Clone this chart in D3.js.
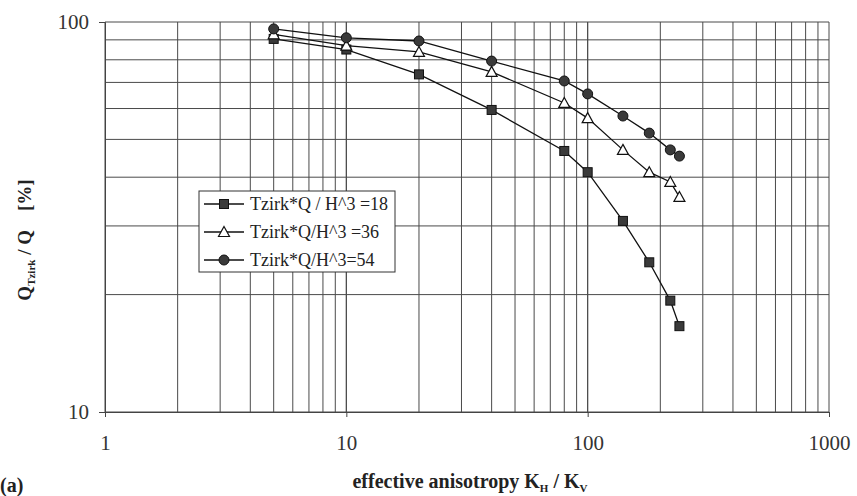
<!DOCTYPE html>
<html>
<head>
<meta charset="utf-8">
<script src="https://cdn.jsdelivr.net/npm/d3@7"></script>
<style>
  body { margin: 0; background: #fff; }
  text { font-family: "Liberation Serif", "DejaVu Serif", serif; white-space: pre; }
</style>
</head>
<body>
<svg id="chart"></svg>
<script>
const WIDTH = 857;
const HEIGHT = 496;

// data
const xValues = [5, 10, 20, 40, 80, 100, 140, 180, 220, 240];
const series18 = [90.5, 85, 73.4, 59.5, 46.7, 41.2, 30.9, 24.2, 19.3, 16.6];
const series36 = [93, 87, 83.8, 74.5, 62, 56.7, 47, 41.2, 38.9, 35.6];
const series54 = [96, 91.1, 89.4, 79.4, 70.6, 65.4, 57.4, 51.9, 47, 45.3];
const seriesNames = ["Tzirk*Q / H^3 =18", "Tzirk*Q/H^3 =36", "Tzirk*Q/H^3=54"];
const seriesMarkers = ["square", "triangle", "circle"];
const xTickLabels = [1, 10, 100, 1000];
const yTickLabels = [10, 100];

const margin = { top: 22, right: 28, bottom: 84, left: 105 };

const svg = d3.select("#chart").attr("width", WIDTH).attr("height", HEIGHT);

const xScale = d3.scaleLog().domain([1, 1000]).range([margin.left, WIDTH - margin.right]);
const yScale = d3.scaleLog().domain([10, 100]).range([HEIGHT - margin.bottom, margin.top]);

// grid
const xGrid = [];
for (let d = 1; d < 1000; d *= 10) for (let k = 1; k <= 10; k++) xGrid.push(d * k);
const yGrid = [];
for (let k = 1; k <= 10; k++) yGrid.push(10 * k);

svg.append("g")
  .selectAll("line")
  .data(xGrid)
  .join("line")
  .attr("x1", (d) => xScale(d))
  .attr("x2", (d) => xScale(d))
  .attr("y1", yScale(100))
  .attr("y2", yScale(10))
  .attr("stroke", "#4a4a4a")
  .attr("stroke-width", 1);

svg.append("g")
  .selectAll("line")
  .data(yGrid)
  .join("line")
  .attr("x1", xScale(1))
  .attr("x2", xScale(1000))
  .attr("y1", (d) => yScale(d))
  .attr("y2", (d) => yScale(d))
  .attr("stroke", "#4a4a4a")
  .attr("stroke-width", 1);

// axes
const xAxis = svg.append("g")
  .attr("transform", `translate(0, ${HEIGHT - margin.bottom})`)
  .call(d3.axisBottom(xScale).tickValues(xTickLabels).tickFormat(d3.format("d")).tickSize(5).tickPadding(18));
const yAxis = svg.append("g")
  .attr("transform", `translate(${margin.left}, 0)`)
  .call(d3.axisLeft(yScale).tickValues(yTickLabels).tickFormat(d3.format("d")).tickSize(6).tickPadding(10));

[xAxis, yAxis].forEach((g) => {
  g.select(".domain").attr("stroke", "#444");
  g.selectAll(".tick line").attr("stroke", "#444");
  g.selectAll(".tick text")
    .attr("font-family", "Liberation Serif, serif")
    .attr("font-size", 21)
    .attr("fill", "#333");
});

// lines and markers
const allSeries = [series18, series36, series54];
const line = d3.line()
  .x((d, i) => xScale(xValues[i]))
  .y((d) => yScale(d));

const drawMarker = (g, type, x, y) => {
  if (type === "square") {
    g.append("rect")
      .attr("x", x - 4.5).attr("y", y - 4.5)
      .attr("width", 9).attr("height", 9)
      .attr("fill", "#3a3a3a").attr("stroke", "#111").attr("stroke-width", 1);
  } else if (type === "triangle") {
    g.append("path")
      .attr("d", `M${x},${y - 5.5}L${x + 5.5},${y + 4.5}L${x - 5.5},${y + 4.5}Z`)
      .attr("fill", "#fff").attr("stroke", "#111").attr("stroke-width", 1.2);
  } else {
    g.append("circle")
      .attr("cx", x).attr("cy", y).attr("r", 5)
      .attr("fill", "#3a3a3a").attr("stroke", "#111").attr("stroke-width", 1);
  }
};

allSeries.forEach((values, s) => {
  svg.append("path")
    .datum(values)
    .attr("d", line)
    .attr("fill", "none")
    .attr("stroke", "#111")
    .attr("stroke-width", 1.3);
  const g = svg.append("g");
  values.forEach((v, i) => drawMarker(g, seriesMarkers[s], xScale(xValues[i]), yScale(v)));
});

// legend
const legend = svg.append("g").attr("transform", "translate(199, 191)");
legend.append("rect")
  .attr("width", 196).attr("height", 81)
  .attr("fill", "#fff").attr("stroke", "#333").attr("stroke-width", 1);
seriesNames.forEach((name, i) => {
  const y = 13 + i * 28;
  legend.append("line")
    .attr("x1", 5).attr("x2", 45).attr("y1", y).attr("y2", y)
    .attr("stroke", "#111").attr("stroke-width", 1.3);
  drawMarker(legend, seriesMarkers[i], 25, y);
  legend.append("text")
    .attr("x", 51).attr("y", y + 6)
    .attr("font-size", 18)
    .attr("fill", "#222")
    .text(name);
});

// axis titles
const yTitle = svg.append("text")
  .attr("transform", "translate(31, 240) rotate(-90)")
  .attr("text-anchor", "middle")
  .attr("font-size", 19)
  .attr("font-weight", "bold")
  .attr("fill", "#222");
yTitle.append("tspan").text("Q");
yTitle.append("tspan").attr("font-size", 11).attr("dy", 4).text("Tzirk");
yTitle.append("tspan").attr("dy", -4).text(" / Q    [%]");

const xTitle = svg.append("text")
  .attr("x", 470).attr("y", 488)
  .attr("text-anchor", "middle")
  .attr("font-size", 20)
  .attr("font-weight", "bold")
  .attr("fill", "#222");
xTitle.append("tspan").text("effective anisotropy K");
xTitle.append("tspan").attr("font-size", 11).attr("dy", 4).text("H");
xTitle.append("tspan").attr("dy", -4).text(" / K");
xTitle.append("tspan").attr("font-size", 11).attr("dy", 4).text("V");

svg.append("text")
  .attr("x", 0).attr("y", 492)
  .attr("font-size", 20)
  .attr("font-weight", "bold")
  .attr("fill", "#222")
  .text("(a)");
</script>
</body>
</html>
